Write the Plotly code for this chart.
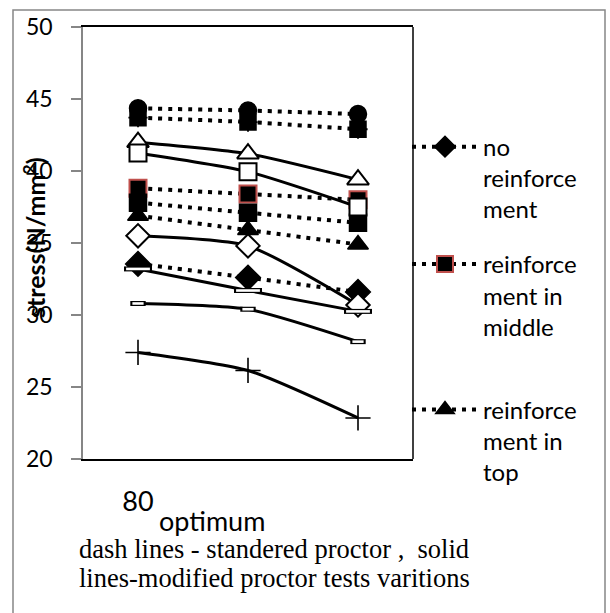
import plotly.graph_objects as go

# Test positions along the horizontal axis (three compaction states)
points = [0, 1, 2]
tick_label = "80"
axis_caption = "optimum"

# Standard proctor series (dotted lines)
no_reinf = [33.55, 32.6, 31.6]
reinf_middle = [38.8, 38.4, 38.0]
reinf_top = [36.9, 35.9, 34.9]
std_square = [37.8, 37.1, 36.4]
std_star = [43.7, 43.4, 42.9]
std_circle = [44.35, 44.2, 43.95]

# Modified proctor series (solid lines)
mod_triangle = [42.0, 41.2, 39.4]
mod_square = [41.25, 39.95, 37.5]
mod_diamond = [35.5, 34.8, 30.7]
mod_dash = [33.2, 31.7, 30.25]
mod_small = [30.8, 30.4, 28.15]
mod_plus = [27.4, 26.15, 22.85]

legend_names = ["no<br>reinforce<br>ment",
                "reinforce<br>ment in<br>middle",
                "reinforce<br>ment in<br>top"]

FONT = "Lato"
DOT = dict(color="black", width=4, dash="4px,6px", shape="spline", smoothing=0.6)
SOLID = dict(color="black", width=3, shape="spline", smoothing=0.6)

fig = go.Figure()


def add(y, line, symbol, size, fill, edge="black", edge_w=1.5, name="series",
        legend=None, mode="lines+markers"):
    fig.add_trace(go.Scatter(
        x=points, y=y, mode=mode, line=line, name=name,
        showlegend=legend is not None, legend=legend or "legend",
        marker=dict(symbol=symbol, size=size, color=fill,
                    line=dict(color=edge, width=edge_w)),
        hoverinfo="skip"))


# dotted series
add(no_reinf, DOT, "diamond", 19, "black", name=legend_names[0], legend="legend")
add(reinf_middle, DOT, "square", 17, "black", edge="#C0504D", edge_w=2,
    name=legend_names[1], legend="legend2")
add(reinf_top, DOT, "triangle-up", 18, "black", name=legend_names[2], legend="legend3")
add(std_square, DOT, "square", 17, "black")
add(std_star, DOT, "square", 16, "black")
add(std_star, None, "asterisk-open", 16, "black", edge="#3A8FA8", edge_w=1.8,
    mode="markers")
add(std_circle, DOT, "circle", 17, "black")

# solid series
add(mod_triangle, SOLID, "triangle-up", 19, "white", edge_w=2)
add(mod_square, SOLID, "square", 17, "white", edge_w=2)
add(mod_diamond, SOLID, "diamond", 18, "white", edge_w=2)
add(mod_dash, SOLID, "line-ew", 20, "black", edge_w=5)
add(mod_dash, None, "line-ew", 17, "white", edge="white", edge_w=2.6, mode="markers")
add(mod_small, SOLID, "line-ew", 11, "black", edge_w=5)
add(mod_small, None, "line-ew", 8, "white", edge="white", edge_w=2.6, mode="markers")
add(mod_plus, SOLID, "cross-thin-open", 18, "black", edge_w=1.6)

L, R, T, B = 83, 413, 25, 459
W, H = 610, 613


def px(x):
    return (x - L) / (R - L)


def py(y):
    return (B - y) / (B - T)


legend_style = dict(font=dict(family=FONT, size=24, color="black"),
                    bgcolor="rgba(0,0,0,0)", borderwidth=0, itemwidth=66,
                    valign="top", xanchor="left", yanchor="top")

fig.update_layout(
    width=W, height=H,
    margin=dict(l=L, r=W - R, t=T, b=H - B),
    paper_bgcolor="white", plot_bgcolor="white",
    font=dict(family=FONT, color="black"),
    legend=dict(x=px(407), y=py(123), **legend_style),
    legend2=dict(x=px(407), y=py(241), **legend_style),
    legend3=dict(x=px(407), y=py(387), **legend_style),
    xaxis=dict(range=[-0.5, 2.5], tickvals=[0], ticktext=[tick_label],
               showgrid=False, zeroline=False, ticks="",
               showline=True, linecolor="black", linewidth=1.5, mirror=True,
               tickfont=dict(family=FONT, size=27, color="black"),
               ticklabelstandoff=18),
    yaxis=dict(range=[20, 50], dtick=5, showgrid=False, zeroline=False,
               showline=True, linecolor="#868686", linewidth=1.5,
               ticks="outside", ticklen=10, tickwidth=1.5, tickcolor="#868686",
               tickfont=dict(family=FONT, size=23, color="black"),
               ticklabelstandoff=14),
    shapes=[
        dict(type="line", xref="paper", yref="paper", x0=1, x1=1, y0=0, y1=1,
             line=dict(color="black", width=1.5)),
        dict(type="rect", xref="paper", yref="paper",
             x0=px(13), x1=px(605), y0=py(640), y1=py(8),
             line=dict(color="#878787", width=1.5), layer="below"),
    ],
    annotations=[
        dict(text="stress(N/mm<sup>2</sup>)", textangle=-90, xref="paper", yref="paper",
             x=px(34), y=py(236), xanchor="center", yanchor="middle", showarrow=False,
             font=dict(family=FONT, size=25, color="black", weight="bold")),
        dict(text=axis_caption, xref="paper", yref="paper", x=px(212), y=py(521),
             xanchor="center", yanchor="middle", showarrow=False,
             font=dict(family=FONT, size=27, color="black")),
        dict(text="dash lines - standered proctor ,\u00a0\u00a0solid", xref="paper",
             yref="paper", x=px(77), y=py(549), xanchor="left", yanchor="middle",
             showarrow=False,
             font=dict(family="Liberation Serif", size=26.5, color="black")),
        dict(text="lines-modified proctor tests varitions", xref="paper",
             yref="paper", x=px(77), y=py(579), xanchor="left", yanchor="middle",
             showarrow=False,
             font=dict(family="Liberation Serif", size=26.5, color="black")),
    ],
)

fig.write_html("out.html")
